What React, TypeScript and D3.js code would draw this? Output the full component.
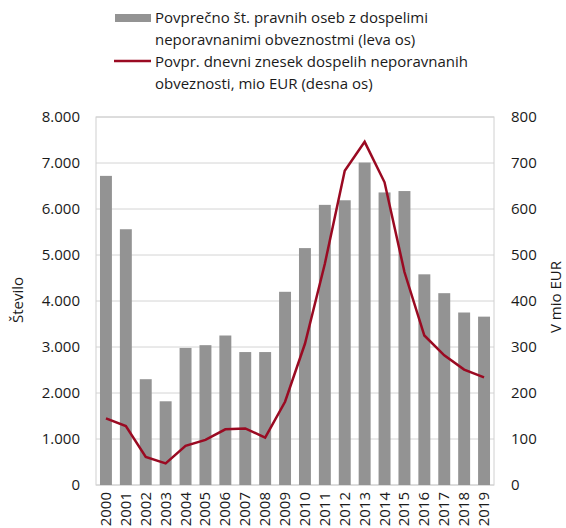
import React from "react";
import * as d3 from "d3";

const years = ["2000","2001","2002","2003","2004","2005","2006","2007","2008","2009","2010","2011","2012","2013","2014","2015","2016","2017","2018","2019"];
const companies = [6720,5560,2300,1820,2980,3040,3250,2890,2890,4200,5150,6090,6190,7010,6360,6390,4580,4170,3750,3660];
const amounts = [145,128,61,47,85,98,121,123,103,181,307,481,683,746,658,463,325,282,251,234];
const leftTicks = [0,1000,2000,3000,4000,5000,6000,7000,8000];
const rightTicks = [0,100,200,300,400,500,600,700,800];

const W = 566, H = 528;
const m = { left: 96, right: 494, top: 117, bottom: 485 };
const FONT = "'Open Sans', 'Noto Sans', sans-serif";
const FS = 15;

export default function App() {
  const x = d3.scaleBand().domain(years).range([m.left, m.right]).paddingInner(0.4).paddingOuter(0.2);
  const yL = d3.scaleLinear().domain([0, 8000]).range([m.bottom, m.top]);
  const yR = d3.scaleLinear().domain([0, 800]).range([m.bottom, m.top]);
  const fmt = (v: number) => d3.format(",")(v).replace(/,/g, ".");
  const line = d3.line<number>()
    .x((_, i) => (x(years[i]) as number) + x.bandwidth() / 2)
    .y((d) => yR(d));
  return (
    <svg width={W} height={H} style={{ position: "absolute", left: 0, top: 0 }} fontFamily={FONT}>
      <rect width={W} height={H} fill="#fff" />
      {/* legend */}
      <rect x={115} y={14} width={36} height={8} fill="#939393" />
      <text x={155} y={23} fontSize={FS} fill="#1a1a1a">Povprečno št. pravnih oseb z dospelimi</text>
      <text x={155} y={45} fontSize={FS} fill="#1a1a1a">neporavnanimi obveznostmi (leva os)</text>
      <line x1={114} x2={151} y1={61} y2={61} stroke="#9a0a22" strokeWidth={2.5} />
      <text x={155} y={67} fontSize={FS} fill="#1a1a1a">Povpr. dnevni znesek dospelih neporavnanih</text>
      <text x={155} y={89} fontSize={FS} fill="#1a1a1a">obveznosti, mio EUR (desna os)</text>
      {/* grid */}
      {leftTicks.map((t) => (
        <line key={t} x1={m.left} x2={m.right} y1={yL(t)} y2={yL(t)} stroke="#d4d4d4" strokeWidth={1} />
      ))}
      <rect x={m.left} y={m.top} width={m.right - m.left} height={m.bottom - m.top} fill="none" stroke="#d0d0d0" strokeWidth={1} />
      {/* bars */}
      {companies.map((v, i) => (
        <rect key={years[i]} x={x(years[i])} y={yL(v)} width={x.bandwidth()} height={m.bottom - yL(v)} fill="#939393" />
      ))}
      <path d={line(amounts) || ""} fill="none" stroke="#9a0a22" strokeWidth={2.5} strokeLinejoin="miter" />
      {/* left axis */}
      {leftTicks.map((t) => (
        <text key={t} x={80} y={yL(t) + 5} fontSize={FS} textAnchor="end" fill="#1a1a1a">{fmt(t)}</text>
      ))}
      {rightTicks.map((t) => (
        <text key={t} x={511} y={yR(t) + 5} fontSize={FS} textAnchor="start" fill="#1a1a1a">{t}</text>
      ))}
      <text transform={`translate(23,${300}) rotate(-90)`} fontSize={FS} textAnchor="middle" fill="#1a1a1a">Število</text>
      <text transform={`translate(561,${297}) rotate(-90)`} fontSize={FS} textAnchor="middle" fill="#1a1a1a">V mio EUR</text>
      {years.map((yv) => (
        <text key={yv} transform={`translate(${(x(yv) as number) + x.bandwidth() / 2 + 5},492) rotate(-90)`} fontSize={FS} textAnchor="end" fill="#1a1a1a">{yv}</text>
      ))}
    </svg>
  );
}
